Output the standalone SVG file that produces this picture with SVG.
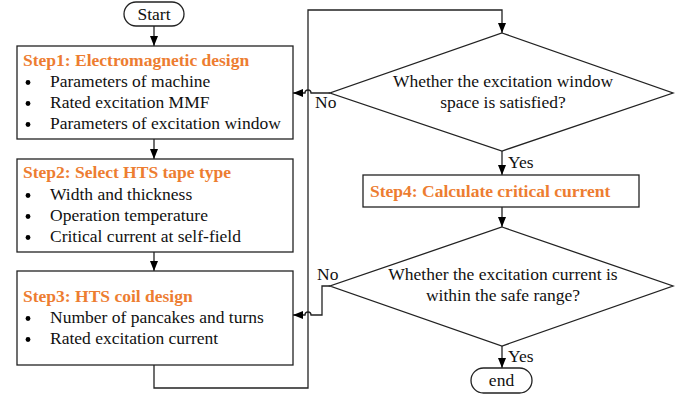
<svg xmlns="http://www.w3.org/2000/svg" width="697" height="398" viewBox="0 0 697 398">
<style>
.box{fill:#fff;stroke:#222;stroke-width:1.3}
.t{font-family:'Liberation Serif','Times New Roman',serif;font-size:17.5px;fill:#111}
.h{font-family:'Liberation Serif','Times New Roman',serif;font-size:17.5px;font-weight:bold;fill:#ED7D31}
.c{text-anchor:middle}
.ar{fill:none;stroke:#222;stroke-width:1.3;marker-end:url(#ah)}
</style>
<defs>
<marker id="ah" viewBox="0 0 10 10" refX="10" refY="5" markerWidth="10" markerHeight="8" markerUnits="userSpaceOnUse" orient="auto" preserveAspectRatio="none">
<path d="M0,0 L10,5 L0,10 Z" fill="#000"/>
</marker>
</defs>
<rect width="697" height="398" fill="#fff"/>
<g id="connectors">
<path class="ar" d="M154,26 V46"/>
<path class="ar" d="M154,139 V159"/>
<path class="ar" d="M154,252 V271"/>
<path class="ar" d="M154,365 V388 H308 V10 H502 V33"/>
<path class="ar" d="M330,93 H311 A3,3 0 0 0 305,93 H293"/>
<path class="ar" d="M502,151 V175"/>
<path class="ar" d="M502,207 V227"/>
<path class="ar" d="M330,286 H322 V315 H311 A3,3 0 0 0 305,315 H293"/>
<path class="ar" d="M502,346 V368"/>
<text class="t" x="315" y="108">No</text>
<text class="t" x="508" y="168">Yes</text>
<text class="t" x="317" y="280">No</text>
<text class="t" x="508" y="362">Yes</text>
</g>
<g id="start">
<rect class="box" x="124" y="2" width="60" height="24" rx="12"/>
<text class="t c" x="154" y="20">Start</text>
</g>
<g id="step1">
<rect class="box" x="17" y="46" width="276" height="93"/>
<text class="h" x="23" y="66">Step1: Electromagnetic design</text>
<circle cx="28" cy="82.5" r="2.4"/><text class="t" x="50" y="87">Parameters of machine</text>
<circle cx="28" cy="103.5" r="2.4"/><text class="t" x="50" y="108">Rated excitation MMF</text>
<circle cx="28" cy="124.5" r="2.4"/><text class="t" x="50" y="129">Parameters of excitation window</text>
</g>
<g id="step2">
<rect class="box" x="17" y="159" width="276" height="93"/>
<text class="h" x="23" y="178">Step2: Select HTS tape type</text>
<circle cx="28" cy="195.5" r="2.4"/><text class="t" x="50" y="200">Width and thickness</text>
<circle cx="28" cy="216.5" r="2.4"/><text class="t" x="50" y="221">Operation temperature</text>
<circle cx="28" cy="237.5" r="2.4"/><text class="t" x="50" y="242">Critical current at self-field</text>
</g>
<g id="step3">
<rect class="box" x="17" y="271" width="276" height="94"/>
<text class="h" x="23" y="302">Step3: HTS coil design</text>
<circle cx="28" cy="318.5" r="2.4"/><text class="t" x="50" y="323">Number of pancakes and turns</text>
<circle cx="28" cy="339.5" r="2.4"/><text class="t" x="50" y="344">Rated excitation current</text>
</g>
<g id="decision1">
<polygon class="box" points="502,33 673,93 502,151 330,93"/>
<text class="t c" x="503" y="87">Whether the excitation window</text>
<text class="t c" x="503" y="108">space is satisfied?</text>
</g>
<g id="step4">
<rect class="box" x="363" y="175" width="276" height="32"/>
<text class="h" x="370" y="197">Step4: Calculate critical current</text>
</g>
<g id="decision2">
<polygon class="box" points="502,227 673,286 502,346 330,286"/>
<text class="t c" x="503" y="280">Whether the excitation current is</text>
<text class="t c" x="503" y="301">within the safe range?</text>
</g>
<g id="end">
<rect class="box" x="471" y="368" width="61" height="25" rx="12.5"/>
<text class="t c" x="501.5" y="386">end</text>
</g>
</svg>
